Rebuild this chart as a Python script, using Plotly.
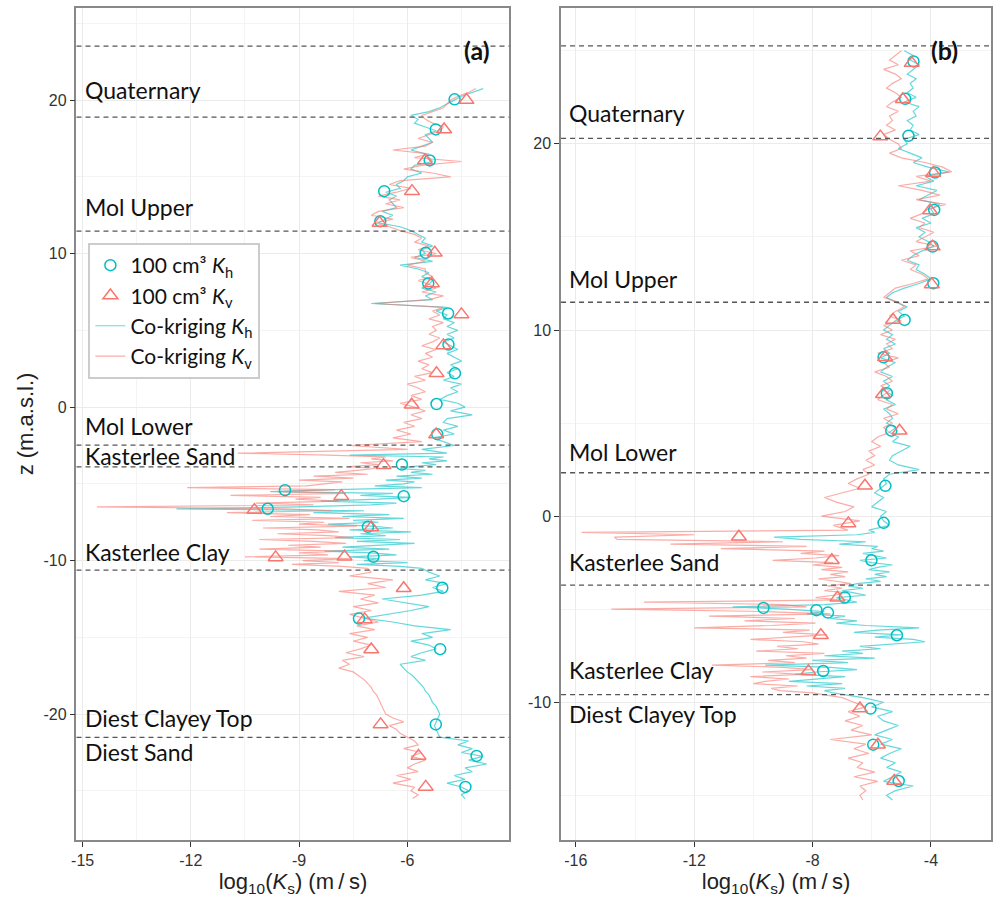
import numpy as np
import plotly.graph_objects as go

# ---------------- DATA ----------------
# Panel (a) depth grid: 0.25 m, refined to 0.125 m in the Kasterlee Clay
za = np.concatenate([np.arange(20.75, -3.01, -0.25),
                     np.arange(-3.125, -10.51, -0.125),
                     np.arange(-10.75, -25.51, -0.25)]).round(3)
kh_a = [-3.9,-4.2,-4.5,-4.7,-4.9,-5.1,-5.4,-5.9,
        -5.7,-5.8,-5.5,-5.2,-5.5,-5.4,-5.3,-5.6,
        -5.9,-5.5,-5.4,-5.3,-5.8,-5.9,-5.6,-6.0,
        -6.1,-6.3,-6.2,-6.6,-6.3,-6.5,-6.4,-6.3,
        -6.7,-6.4,-6.6,-6.8,-6.2,-5.9,-5.7,-5.5,
        -5.6,-5.3,-5.6,-5.5,-5.8,-5.3,-6.2,-5.7,
        -5.4,-5.6,-5.3,-5.4,-5.6,-5.2,-5.5,-5.3,
        -7.0,-4.9,-5.2,-4.9,-5.0,-4.7,-4.9,-4.6,
        -4.9,-4.7,-5.0,-4.8,-4.6,-4.9,-4.7,-4.5,
        -4.8,-4.6,-4.9,-4.7,-5.0,-4.5,-4.8,-4.6,
        -4.9,-5.1,-4.6,-4.4,-4.8,-4.2,-4.9,-5.0,
        -4.6,-5.0,-4.7,-5.3,-5.0,-4.7,-5.6,-4.9,
        # fine section -3.125 .. -10.5
        -7.6,-5.0,-5.4,-4.9,-5.6,-5.2,-5.9,-6.2,
        -5.5,-5.9,-5.3,-6.3,-5.6,-6.6,-5.8,-6.1,
        -6.9,-5.6,-8.0,-9.8,-6.4,-7.3,-5.9,-6.8,
        -8.4,-6.3,-7.0,-9.0,-12.4,-7.2,-8.6,-6.5,
        -7.8,-6.1,-7.5,-6.8,-8.2,-7.0,-6.4,-7.6,
        -5.9,-7.3,-6.6,-8.0,-6.2,-7.4,-5.8,-6.9,
        -7.8,-6.5,-8.3,-7.0,-6.3,-7.6,-6.8,-7.2,
        -6.0,-7.4,-6.2,-5.6,
        # -10.75 .. -25.5
        -5.4,-5.1,
        -5.5,-4.9,-5.3,-5.0,-5.6,-6.7,-6.0,-5.4,
        -5.9,-6.6,-7.2,-6.4,-5.8,-4.8,-5.6,-5.3,
        -5.9,-5.4,-5.2,-5.6,-5.9,-5.5,-6.2,-6.1,
        -6.0,-5.85,-5.75,-5.65,-5.55,-5.5,-5.4,-5.35,
        -5.3,-5.2,-5.15,-5.1,-5.15,-5.2,-5.25,-5.2,
        -5.15,-5.1,-4.3,-4.6,-4.2,-4.5,-3.9,-4.3,
        -3.8,-4.4,-4.2,-4.7,-4.4,-4.9,-4.5,-4.3,
        -4.5,-4.4]
kv_a = [-4.1,-4.3,-4.6,-4.8,-4.9,-5.0,-5.3,-5.6,
        -5.5,-5.3,-5.0,-5.1,-5.4,-5.7,-5.3,-5.5,
        -6.4,-5.4,-5.8,-4.5,-5.6,-6.1,-5.3,-4.8,
        -6.2,-6.5,-5.9,-6.3,-6.8,-6.2,-6.6,-6.1,
        -6.8,-7.0,-6.4,-6.9,-6.5,-6.2,-5.8,-5.6,
        -5.8,-5.4,-5.7,-5.2,-5.9,-5.5,-6.0,-5.5,
        -5.5,-5.3,-5.7,-5.4,-5.2,-5.6,-5.0,-5.4,
        -6.9,-5.0,-5.3,-5.1,-5.4,-5.0,-5.3,-5.2,
        -5.4,-5.1,-5.3,-5.6,-5.2,-5.5,-5.3,-5.7,
        -5.4,-5.6,-5.3,-5.8,-5.5,-6.0,-5.7,-5.5,
        -5.9,-5.6,-6.2,-5.8,-5.5,-5.9,-5.6,-6.1,
        -5.8,-6.3,-5.9,-6.4,-5.6,-7.6,-6.0,-10.7,
        # fine section -3.125 .. -10.5
        -8.2,-6.6,-7.0,-6.4,-7.3,-6.8,-7.6,-6.9,
        -7.4,-8.0,-7.1,-8.6,-7.5,-9.0,-7.8,-8.3,
        -8.8,-12.1,-8.0,-9.6,-7.7,-10.9,-8.4,-9.1,
        -7.9,-10.2,-8.6,-14.6,-9.4,-8.1,-11.0,-8.7,
        -9.8,-7.6,-10.3,-8.3,-9.0,-7.4,-10.0,-8.5,
        -7.9,-9.6,-8.2,-7.5,-10.1,-8.6,-7.7,-9.3,
        -8.4,-10.1,-7.8,-9.0,-8.2,-10.5,-7.6,-8.9,
        -7.9,-9.2,-7.8,-7.1,
        # -10.75 .. -25.5
        -7.0,-7.6,
        -6.4,-7.1,-6.6,-7.9,-6.9,-7.3,-6.8,-7.5,
        -7.0,-7.6,-7.2,-6.8,-7.4,-6.9,-7.6,-7.1,
        -7.5,-7.0,-7.3,-7.7,-7.2,-7.8,-7.6,-7.9,
        -7.5,-7.35,-7.2,-7.1,-7.0,-6.95,-6.85,-6.8,
        -6.75,-6.7,-6.65,-6.6,-6.4,-6.1,-6.5,-6.3,
        -6.2,-6.0,-5.8,-5.7,-6.1,-5.6,-5.9,-5.5,
        -5.8,-6.0,-5.7,-6.3,-5.9,-6.4,-5.8,-5.9,
        -5.7,-5.85]

# Panel (a): 100 cm3 samples
sa_kh_z = [20.05,18.09,16.07,14.07,12.1,10.05,8.06,6.1,4.08,2.2,0.2,-1.76,-3.74,-5.41,-5.8,-6.62,-7.8,-9.75,
           -11.77,-13.77,-15.77,-20.67,-22.72,-24.74]
sa_kh_x = [-4.69,-5.21,-5.38,-6.64,-6.75,-5.49,-5.42,-4.87,-4.86,-4.68,-5.19,-5.17,-6.15,-9.39,-6.10,-9.87,-7.09,-6.94,
           -5.03,-7.34,-5.09,-5.21,-4.08,-4.39]
sa_kv_z = [20.0,18.09,16.07,14.07,12.0,10.05,8.06,6.04,4.02,2.2,0.15,-1.78,-3.78,-5.8,-6.71,-7.84,-9.79,-9.75,
           -11.8,-13.83,-15.79,-20.67,-22.72,-24.74]
sa_kv_x = [-4.36,-4.98,-5.51,-5.87,-6.77,-5.24,-5.32,-4.5,-5.0,-5.19,-5.88,-5.2,-6.66,-7.83,-10.24,-7.0,-9.65,-7.74,
           -6.10,-7.18,-7.0,-6.74,-5.69,-5.49]

# Panel (b) depth grid: 0.25 m, refined to 0.125 m in Kasterlee Sand/Clay
zb = np.concatenate([np.arange(25.0, -0.76, -0.25),
                     np.arange(-0.875, -9.51, -0.125),
                     np.arange(-9.75, -15.26, -0.25)]).round(3)
kh_b = [-4.9,-4.6,-4.7,-4.4,-4.6,-4.8,-4.5,-4.7,
        -4.6,-4.8,-4.5,-4.9,-4.4,-4.6,-4.5,-4.8,
        -4.6,-4.7,-4.4,-4.9,-4.8,-5.1,-4.7,-4.3,
        -4.6,-4.1,-3.4,-4.2,-3.9,-4.5,-3.8,-4.1,
        -4.4,-3.7,-4.0,-3.9,-4.3,-4.0,-4.5,-4.2,
        -4.4,-4.1,-3.9,-4.3,-4.6,-4.8,-4.4,-4.5,
        -4.2,-4.0,-4.4,-4.9,-5.3,-5.5,-5.2,-4.8,
        -5.1,-4.9,-5.2,-5.4,-5.6,-5.3,-5.5,-5.2,
        -5.6,-5.4,-5.7,-5.2,-5.5,-5.7,-5.3,-5.6,
        -5.4,-5.6,-5.3,-5.5,-5.2,-5.6,-5.4,-5.3,
        -5.5,-5.2,-5.4,-5.1,-5.3,-4.7,-5.0,-5.3,
        -5.4,-5.1,-4.4,-5.4,-5.6,-5.5,-5.7,-5.9,
        -5.6,-5.8,-6.0,-5.5,-5.7,-5.6,-5.4,-6.1,
        # fine section -0.875 .. -9.5
        -5.9,-6.5,-9.3,-8.4,-6.2,-7.1,-5.8,-6.0,
        -5.6,-6.3,-5.9,-5.5,-6.4,-6.0,-5.3,-5.8,
        -6.1,-5.4,-5.9,-5.5,-6.2,-5.7,-6.5,-6.8,
        -6.3,-7.0,-6.6,-6.2,-7.2,-6.8,-6.5,-7.6,
        -10.7,-8.9,-7.6,-8.2,-6.9,-7.4,-6.5,-7.2,
        -6.2,-4.4,-5.8,-6.6,-5.0,-5.9,-4.6,-4.2,
        -5.5,-6.4,-5.7,-7.0,-6.3,-7.6,-5.9,-8.0,
        -6.8,-9.6,-7.4,-6.5,-7.9,-8.6,-6.9,-7.8,
        -8.8,-7.0,-8.2,-6.9,-7.6,-7.3,
        # -9.75 .. -15.25
        -6.3,-5.6,-6.0,-5.3,-5.8,
        -5.6,-5.1,-5.5,-5.9,-5.3,-5.7,-5.0,-5.4,
        -5.7,-5.2,-5.5,-5.0,-5.3,-5.6,-4.6,-5.2,
        -5.5,-5.3]
kv_b = [-5.0,-5.2,-5.4,-5.1,-5.6,-5.2,-5.0,-5.3,
        -5.5,-5.2,-5.0,-5.3,-5.5,-5.1,-5.4,-5.3,
        -5.5,-5.2,-5.6,-5.4,-5.1,-5.0,-5.4,-5.0,
        -4.2,-3.6,-3.3,-4.5,-4.0,-5.1,-4.3,-3.7,
        -4.5,-3.5,-4.1,-4.3,-4.7,-4.2,-4.4,-3.9,
        -4.2,-4.5,-3.8,-4.7,-4.4,-5.0,-4.5,-4.7,
        -4.3,-4.1,-4.6,-5.2,-5.4,-5.6,-5.1,-4.9,
        -5.2,-5.4,-5.0,-5.6,-5.3,-5.7,-5.2,-5.5,
        -5.3,-5.8,-5.1,-5.6,-5.4,-5.9,-5.5,-5.3,
        -5.7,-5.4,-5.6,-5.8,-5.3,-5.5,-5.1,-5.6,
        -5.3,-5.6,-5.4,-5.8,-6.0,-5.7,-6.1,-5.9,
        -6.2,-5.9,-6.3,-6.1,-6.5,-6.8,-6.4,-7.0,
        -7.6,-7.2,-6.6,-6.9,-7.7,-6.4,-7.3,-6.8,
        # fine section -0.875 .. -9.5
        -15.8,-12.0,-14.7,-14.6,-9.0,-12.8,-8.2,-11.1,
        -7.6,-8.4,-7.1,-7.9,-9.35,-7.3,-8.0,-7.0,
        -7.7,-6.8,-7.4,-6.9,-7.8,-7.2,-6.7,-7.5,
        -7.0,-7.6,-6.8,-7.3,-7.9,-7.1,-13.7,-9.0,
        -8.2,-14.8,-9.6,-7.4,-11.5,-8.6,-10.3,-7.9,
        -9.4,-12.0,-8.1,-9.0,-7.5,-8.8,-10.1,-8.3,
        -7.8,-9.2,-8.5,-9.9,-7.6,-8.9,-8.2,-9.5,
        -8.6,-11.4,-9.0,-8.0,-9.7,-8.4,-10.1,-8.8,
        -9.6,-10.0,-8.5,-9.4,-9.1,-8.0,
        # -9.75 .. -15.25
        -7.0,-6.6,-6.2,-6.8,-6.4,
        -6.9,-6.3,-6.7,-6.0,-7.4,-6.2,-6.6,-6.1,
        -6.8,-6.3,-6.5,-5.9,-6.6,-5.8,-6.4,-6.2,
        -6.4,-6.3]

# Panel (b): 100 cm3 samples
sb_kh_z = [24.43,22.42,20.43,18.46,16.45,14.48,12.51,10.54,8.53,6.6,4.59,1.63,-0.36,-2.37,-4.37,-4.93,-5.05,-5.18,
           -6.4,-8.32,-10.34,-12.28,-14.23]
sb_kh_x = [-4.59,-4.87,-4.76,-3.86,-3.89,-3.94,-3.92,-4.89,-5.6,-5.49,-5.34,-5.54,-5.6,-6.01,-6.91,-9.66,-7.87,-7.48,
           -5.15,-7.64,-6.04,-5.95,-5.09]
sb_kv_z = [24.34,22.4,20.39,18.44,16.42,14.48,12.45,10.54,8.53,6.55,4.59,1.63,-0.39,-1.11,-2.37,-4.39,-6.4,-8.33,
           -10.34,-12.28,-14.23]
sb_kv_x = [-4.65,-4.95,-5.71,-3.92,-4.03,-3.94,-3.97,-5.28,-5.55,-5.62,-5.06,-6.23,-6.79,-10.49,-7.35,-7.16,-7.72,-8.14,
           -6.40,-5.79,-5.24]

# Unit boundaries and labels
bounds_a = [23.52, 18.89, 11.47, -2.48, -3.89, -10.62, -21.52]
bounds_b = [25.27, 20.3, 11.49, 2.33, -3.71, -9.59]
units_a = ["Quaternary", "Mol Upper", "Mol Lower", "Kasterlee Sand", "Kasterlee Clay", "Diest Clayey Top", "Diest Sand"]
unit_z_a = [20.65, 13.03, -1.22, -3.17, -9.47, -20.22, -22.45]
units_b = ["Quaternary", "Mol Upper", "Mol Lower", "Kasterlee Sand", "Kasterlee Clay", "Diest Clayey Top"]
unit_z_b = [21.68, 12.74, 3.46, -2.46, -8.28, -10.61]

xticks_a = [-15, -12, -9, -6]
xticks_b = [-16, -12, -8, -4]
yticks_a = [20, 10, 0, -10, -20]
yticks_b = [20, 10, 0, -10]

# ---------------- FIGURE ----------------
CYAN = "#00BFC4"
RED = "#F8766D"
LINE_OP = 0.6

fig = go.Figure()

def add_panel(xa, ya, z, kh, kv, skz, skx, svz, svx, legend):
    fig.add_trace(go.Scatter(x=kh, y=z, mode="lines", line=dict(color=CYAN, width=1.2),
                             opacity=LINE_OP, xaxis=xa, yaxis=ya, name="Co-kriging <i>K</i><sub>h</sub>",
                             showlegend=legend, legendrank=3))
    fig.add_trace(go.Scatter(x=kv, y=z, mode="lines", line=dict(color=RED, width=1.2),
                             opacity=LINE_OP, xaxis=xa, yaxis=ya, name="Co-kriging <i>K</i><sub>v</sub>",
                             showlegend=legend, legendrank=4))
    fig.add_trace(go.Scatter(x=skx, y=skz, mode="markers",
                             marker=dict(symbol="circle-open", size=11, color=CYAN, line=dict(width=1.5)),
                             xaxis=xa, yaxis=ya, name="100 cm³ <i>K</i><sub>h</sub>",
                             showlegend=legend, legendrank=1))
    fig.add_trace(go.Scatter(x=svx, y=svz, mode="markers",
                             marker=dict(symbol="triangle-up-open", size=13, color=RED, line=dict(width=1.5)),
                             xaxis=xa, yaxis=ya, name="100 cm³ <i>K</i><sub>v</sub>",
                             showlegend=legend, legendrank=2))

add_panel("x", "y", za, kh_a, kv_a, sa_kh_z, sa_kh_x, sa_kv_z, sa_kv_x, True)
add_panel("x2", "y2", zb, kh_b, kv_b, sb_kh_z, sb_kh_x, sb_kv_z, sb_kv_x, False)

shapes = []
for b in bounds_a:
    shapes.append(dict(type="line", xref="x domain", yref="y", x0=0, x1=1, y0=b, y1=b,
                       line=dict(color="#555555", width=1.3, dash="5px,4px")))
for b in bounds_b:
    shapes.append(dict(type="line", xref="x2 domain", yref="y2", x0=0, x1=1, y0=b, y1=b,
                       line=dict(color="#555555", width=1.3, dash="5px,4px")))

LABEL_FONT = dict(family="Lato, Open Sans, sans-serif", size=23, color="#111111")
ann = []
for t, zz in zip(units_a, unit_z_a):
    ann.append(dict(text=t, x=-15.0, y=zz, xref="x", yref="y", xanchor="left", yanchor="middle",
                    showarrow=False, font=LABEL_FONT))
for t, zz in zip(units_b, unit_z_b):
    ann.append(dict(text=t, x=-16.3, y=zz, xref="x2", yref="y2", xanchor="left", yanchor="middle",
                    showarrow=False, font=LABEL_FONT))
ann.append(dict(text="<b>(a)</b>", x=475/993, y=1-33/906, xref="paper", yref="paper",
                showarrow=False, font=dict(family="Lato, sans-serif", size=25, color="#111111")))
ann.append(dict(text="<b>(b)</b>", x=962/993, y=1-33/906, xref="paper", yref="paper",
                showarrow=False, font=dict(family="Lato, sans-serif", size=25, color="#111111")))

TICK_FONT = dict(family="Liberation Sans, Arial, sans-serif", size=16, color="#333333")
TITLE_FONT = dict(family="Liberation Sans, Arial, sans-serif", size=22, color="#222222")
GRID = "#EBEBEB"
MINOR = "#F4F4F4"

def axis_common():
    return dict(showline=True, mirror=True, linecolor="#888888", linewidth=1.5,
                ticks="outside", ticklen=5, tickcolor="#333333", tickwidth=1.2,
                showgrid=True, gridcolor=GRID, gridwidth=1.2, zeroline=False,
                tickfont=TICK_FONT)

def lab(v):
    return [str(t) for t in v]

XTITLE = "log<sub>10</sub>(<i>K</i><sub>s</sub>) (m\u2009/\u2009s)"
ya_dom = [66/906, 898/906]
fig.update_layout(
    width=993, height=906, margin=dict(l=0, r=0, t=0, b=0),
    paper_bgcolor="white", plot_bgcolor="white",
    shapes=shapes, annotations=ann,
    xaxis=dict(domain=[72/993, 508/993], range=[-15.17, -3.17], tickvals=xticks_a, ticktext=lab(xticks_a),
               anchor="y",
               minor=dict(dtick=1.5, tick0=-15, showgrid=True, gridcolor=MINOR, ticks=""),
               title=dict(text=XTITLE, font=TITLE_FONT, standoff=6),
               **axis_common()),
    yaxis=dict(domain=ya_dom, range=[-28.2, 26.0], tickvals=yticks_a, ticktext=lab(yticks_a), anchor="x",
               minor=dict(dtick=5, tick0=0, showgrid=True, gridcolor=MINOR, ticks=""),
               title=dict(text="z (m.a.s.l.)", font=TITLE_FONT, standoff=4),
               **axis_common()),
    xaxis2=dict(domain=[560/993, 1.0], range=[-16.5, -1.97], tickvals=xticks_b, ticktext=lab(xticks_b),
                anchor="y2",
                minor=dict(dtick=2, tick0=-16, showgrid=True, gridcolor=MINOR, ticks=""),
                title=dict(text=XTITLE, font=TITLE_FONT, standoff=6),
                **axis_common()),
    yaxis2=dict(domain=ya_dom, range=[-17.4, 27.3], tickvals=yticks_b, ticktext=lab(yticks_b), anchor="x2",
                minor=dict(dtick=5, tick0=0, showgrid=True, gridcolor=MINOR, ticks=""),
                **axis_common()),
    legend=dict(x=84/993, y=1-243/906, xanchor="left", yanchor="top",
                bgcolor="white", bordercolor="#CCCCCC", borderwidth=2,
                font=dict(family="Lato, Open Sans, sans-serif", size=21, color="#111111"),
                tracegroupgap=0, itemwidth=30),
)

fig.write_html("out.html")
